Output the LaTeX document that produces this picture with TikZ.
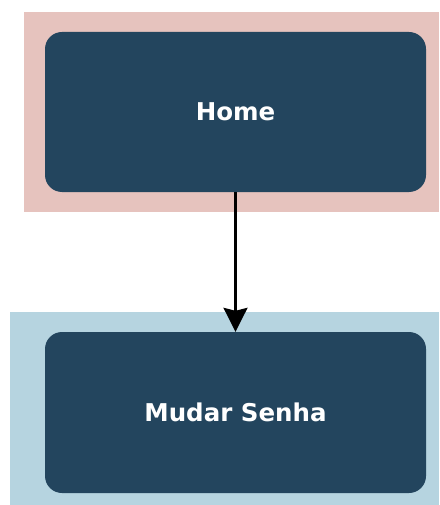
\documentclass[tikz,border=0pt]{standalone}
\usepackage{fontspec}
\setmainfont{DejaVu Sans}
\usetikzlibrary{arrows.meta}
\definecolor{pinkbg}{RGB}{230,195,190}
\definecolor{bluebg}{RGB}{182,212,224}
\definecolor{darkbox}{RGB}{35,69,94}
\tikzset{
  screenbox/.style={fill=darkbox, draw=none, rounded corners=17pt, text=white,
    font=\bfseries\fontsize{24.5}{28}\selectfont, inner sep=0},
  link/.style={draw=black, line width=2.2pt, -{Stealth[width=24pt,length=24pt,inset=3pt]}}
}
\begin{document}
\begin{tikzpicture}[x=1pt,y=-1pt]
\useasboundingbox (0,0) rectangle (439,505);
\fill[pinkbg] (24,12) rectangle (439,212);
\fill[bluebg] (10,312) rectangle (439,505);
\node[screenbox, minimum width=381pt, minimum height=160pt] (home) at (235.5,112) {Home};
\node[screenbox, minimum width=381pt, minimum height=161pt] (senha) at (235.5,412.5) {Mudar Senha};
\draw[link] (home.south) -- (senha.north);
\end{tikzpicture}
\end{document}
